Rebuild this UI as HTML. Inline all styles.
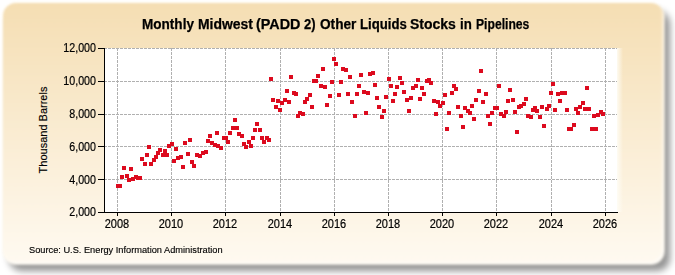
<!DOCTYPE html>
<html><head><meta charset="utf-8"><style>
html,body{margin:0;padding:0;width:675px;height:275px;overflow:hidden;background:#fff;}
body{position:relative;font-family:"Liberation Sans",sans-serif;}
#shadow{position:absolute;left:9px;top:11px;width:661px;height:260px;border-radius:13px;background:rgba(0,0,0,0.42);filter:blur(3.5px);}
#panel{position:absolute;left:3px;top:3px;width:661px;height:261px;border-radius:13px;
background:linear-gradient(to bottom,#f5deb3 0%,#fffaf1 100%);
box-shadow:0 0 1.5px 1px rgba(255,251,242,0.75),inset -2px -2px 2px rgba(255,255,255,0.5);filter:blur(0.9px);}
.tw{position:absolute;top:16px;font-weight:bold;font-size:14px;color:#000;-webkit-text-stroke:0.25px #000;white-space:nowrap;line-height:16px;transform-origin:0 50%;}
svg{position:absolute;left:0;top:0;}
.yl{position:absolute;left:40.5px;width:56px;text-align:right;font-size:12px;color:#000;-webkit-text-stroke:0.2px #000;line-height:14px;transform:scaleX(0.89);transform-origin:100% 50%;}
.xl{position:absolute;top:217px;width:40px;text-align:center;font-size:12px;color:#000;-webkit-text-stroke:0.2px #000;line-height:14px;transform:scaleX(0.917);transform-origin:50% 50%;}
#ylab{position:absolute;left:42.8px;top:130px;transform:translate(-50%,-50%) rotate(-90deg);font-size:11px;color:#000;-webkit-text-stroke:0.15px #000;white-space:nowrap;line-height:12px;}
#src{position:absolute;left:29px;top:244.4px;font-size:9.6px;transform:scaleX(0.963);transform-origin:0 50%;color:#000;-webkit-text-stroke:0.15px #000;white-space:nowrap;line-height:11px;}
</style></head><body>
<div id="shadow"></div><div id="panel"></div>
<span class="tw" style="left:141.53px;transform:scaleX(0.968)">Monthly</span><span class="tw" style="left:197.70px;transform:scaleX(0.996)">Midwest</span><span class="tw" style="left:255.87px;transform:scaleX(1.027)">(PADD</span><span class="tw" style="left:303.80px;transform:scaleX(0.93)">2)</span><span class="tw" style="left:320.00px;transform:scaleX(0.975)">Other</span><span class="tw" style="left:359.66px;transform:scaleX(0.94)">Liquids</span><span class="tw" style="left:410.00px;transform:scaleX(0.999)">Stocks</span><span class="tw" style="left:460.25px;transform:scaleX(0.946)">in</span><span class="tw" style="left:476.33px;transform:scaleX(0.868)">Pipelines</span>
<svg width="675" height="275" viewBox="0 0 675 275" shape-rendering="crispEdges">
<defs><linearGradient id="edge" x1="0" x2="1" y1="0" y2="0"><stop offset="0" stop-color="#fffef8" stop-opacity="0.85"/><stop offset="1" stop-color="#fffef8" stop-opacity="0"/></linearGradient></defs><rect x="617" y="48" width="6" height="164" fill="url(#edge)"/><rect x="104" y="48" width="513" height="164" fill="#fff"/><line x1="104" y1="48.5" x2="617" y2="48.5" stroke="#b0b0b0" stroke-dasharray="3,1"/><line x1="104" y1="81.5" x2="617" y2="81.5" stroke="#b0b0b0" stroke-dasharray="3,1"/><line x1="104" y1="114.5" x2="617" y2="114.5" stroke="#b0b0b0" stroke-dasharray="3,1"/><line x1="104" y1="146.5" x2="617" y2="146.5" stroke="#b0b0b0" stroke-dasharray="3,1"/><line x1="104" y1="179.5" x2="617" y2="179.5" stroke="#b0b0b0" stroke-dasharray="3,1"/><line x1="117.5" y1="48" x2="117.5" y2="212" stroke="#b0b0b0" stroke-dasharray="3,1"/><line x1="171.5" y1="48" x2="171.5" y2="212" stroke="#b0b0b0" stroke-dasharray="3,1"/><line x1="225.5" y1="48" x2="225.5" y2="212" stroke="#b0b0b0" stroke-dasharray="3,1"/><line x1="280.5" y1="48" x2="280.5" y2="212" stroke="#b0b0b0" stroke-dasharray="3,1"/><line x1="334.5" y1="48" x2="334.5" y2="212" stroke="#b0b0b0" stroke-dasharray="3,1"/><line x1="388.5" y1="48" x2="388.5" y2="212" stroke="#b0b0b0" stroke-dasharray="3,1"/><line x1="442.5" y1="48" x2="442.5" y2="212" stroke="#b0b0b0" stroke-dasharray="3,1"/><line x1="496.5" y1="48" x2="496.5" y2="212" stroke="#b0b0b0" stroke-dasharray="3,1"/><line x1="551.5" y1="48" x2="551.5" y2="212" stroke="#b0b0b0" stroke-dasharray="3,1"/><line x1="605.5" y1="48" x2="605.5" y2="212" stroke="#b0b0b0" stroke-dasharray="3,1"/><rect x="116" y="184" width="4" height="4" fill="#dc0a1e"/><rect x="118" y="184" width="4" height="4" fill="#dc0a1e"/><rect x="120" y="175" width="4" height="4" fill="#dc0a1e"/><rect x="122" y="166" width="4" height="4" fill="#dc0a1e"/><rect x="125" y="174" width="4" height="4" fill="#dc0a1e"/><rect x="127" y="178" width="4" height="4" fill="#dc0a1e"/><rect x="129" y="167" width="4" height="4" fill="#dc0a1e"/><rect x="131" y="177" width="4" height="4" fill="#dc0a1e"/><rect x="134" y="175" width="4" height="4" fill="#dc0a1e"/><rect x="136" y="176" width="4" height="4" fill="#dc0a1e"/><rect x="138" y="176" width="4" height="4" fill="#dc0a1e"/><rect x="140" y="157" width="4" height="4" fill="#dc0a1e"/><rect x="143" y="162" width="4" height="4" fill="#dc0a1e"/><rect x="145" y="153" width="4" height="4" fill="#dc0a1e"/><rect x="147" y="145" width="4" height="4" fill="#dc0a1e"/><rect x="149" y="162" width="4" height="4" fill="#dc0a1e"/><rect x="152" y="158" width="4" height="4" fill="#dc0a1e"/><rect x="154" y="155" width="4" height="4" fill="#dc0a1e"/><rect x="156" y="151" width="4" height="4" fill="#dc0a1e"/><rect x="158" y="148" width="4" height="4" fill="#dc0a1e"/><rect x="161" y="153" width="4" height="4" fill="#dc0a1e"/><rect x="163" y="149" width="4" height="4" fill="#dc0a1e"/><rect x="165" y="153" width="4" height="4" fill="#dc0a1e"/><rect x="167" y="144" width="4" height="4" fill="#dc0a1e"/><rect x="170" y="142" width="4" height="4" fill="#dc0a1e"/><rect x="172" y="159" width="4" height="4" fill="#dc0a1e"/><rect x="174" y="147" width="4" height="4" fill="#dc0a1e"/><rect x="176" y="156" width="4" height="4" fill="#dc0a1e"/><rect x="179" y="155" width="4" height="4" fill="#dc0a1e"/><rect x="181" y="165" width="4" height="4" fill="#dc0a1e"/><rect x="183" y="141" width="4" height="4" fill="#dc0a1e"/><rect x="186" y="152" width="4" height="4" fill="#dc0a1e"/><rect x="188" y="138" width="4" height="4" fill="#dc0a1e"/><rect x="190" y="160" width="4" height="4" fill="#dc0a1e"/><rect x="192" y="164" width="4" height="4" fill="#dc0a1e"/><rect x="195" y="153" width="4" height="4" fill="#dc0a1e"/><rect x="198" y="154" width="4" height="4" fill="#dc0a1e"/><rect x="201" y="151" width="4" height="4" fill="#dc0a1e"/><rect x="204" y="150" width="4" height="4" fill="#dc0a1e"/><rect x="206" y="139" width="4" height="4" fill="#dc0a1e"/><rect x="208" y="134" width="4" height="4" fill="#dc0a1e"/><rect x="210" y="141" width="4" height="4" fill="#dc0a1e"/><rect x="213" y="143" width="4" height="4" fill="#dc0a1e"/><rect x="215" y="131" width="4" height="4" fill="#dc0a1e"/><rect x="216" y="144" width="4" height="4" fill="#dc0a1e"/><rect x="219" y="146" width="4" height="4" fill="#dc0a1e"/><rect x="222" y="136" width="4" height="4" fill="#dc0a1e"/><rect x="224" y="136" width="4" height="4" fill="#dc0a1e"/><rect x="226" y="140" width="4" height="4" fill="#dc0a1e"/><rect x="228" y="131" width="4" height="4" fill="#dc0a1e"/><rect x="231" y="126" width="4" height="4" fill="#dc0a1e"/><rect x="233" y="118" width="4" height="4" fill="#dc0a1e"/><rect x="235" y="126" width="4" height="4" fill="#dc0a1e"/><rect x="237" y="132" width="4" height="4" fill="#dc0a1e"/><rect x="240" y="134" width="4" height="4" fill="#dc0a1e"/><rect x="242" y="142" width="4" height="4" fill="#dc0a1e"/><rect x="244" y="145" width="4" height="4" fill="#dc0a1e"/><rect x="247" y="140" width="4" height="4" fill="#dc0a1e"/><rect x="249" y="144" width="4" height="4" fill="#dc0a1e"/><rect x="251" y="136" width="4" height="4" fill="#dc0a1e"/><rect x="253" y="128" width="4" height="4" fill="#dc0a1e"/><rect x="255" y="122" width="4" height="4" fill="#dc0a1e"/><rect x="258" y="128" width="4" height="4" fill="#dc0a1e"/><rect x="260" y="136" width="4" height="4" fill="#dc0a1e"/><rect x="262" y="140" width="4" height="4" fill="#dc0a1e"/><rect x="265" y="136" width="4" height="4" fill="#dc0a1e"/><rect x="267" y="138" width="4" height="4" fill="#dc0a1e"/><rect x="269" y="77" width="4" height="4" fill="#dc0a1e"/><rect x="271" y="98" width="4" height="4" fill="#dc0a1e"/><rect x="274" y="105" width="4" height="4" fill="#dc0a1e"/><rect x="276" y="99" width="4" height="4" fill="#dc0a1e"/><rect x="278" y="108" width="4" height="4" fill="#dc0a1e"/><rect x="280" y="101" width="4" height="4" fill="#dc0a1e"/><rect x="283" y="98" width="4" height="4" fill="#dc0a1e"/><rect x="285" y="89" width="4" height="4" fill="#dc0a1e"/><rect x="287" y="100" width="4" height="4" fill="#dc0a1e"/><rect x="289" y="75" width="4" height="4" fill="#dc0a1e"/><rect x="292" y="91" width="4" height="4" fill="#dc0a1e"/><rect x="294" y="92" width="4" height="4" fill="#dc0a1e"/><rect x="296" y="114" width="4" height="4" fill="#dc0a1e"/><rect x="298" y="111" width="4" height="4" fill="#dc0a1e"/><rect x="301" y="112" width="4" height="4" fill="#dc0a1e"/><rect x="303" y="100" width="4" height="4" fill="#dc0a1e"/><rect x="305" y="97" width="4" height="4" fill="#dc0a1e"/><rect x="308" y="93" width="4" height="4" fill="#dc0a1e"/><rect x="310" y="105" width="4" height="4" fill="#dc0a1e"/><rect x="312" y="79" width="4" height="4" fill="#dc0a1e"/><rect x="314" y="79" width="4" height="4" fill="#dc0a1e"/><rect x="316" y="74" width="4" height="4" fill="#dc0a1e"/><rect x="319" y="84" width="4" height="4" fill="#dc0a1e"/><rect x="321" y="67" width="4" height="4" fill="#dc0a1e"/><rect x="323" y="85" width="4" height="4" fill="#dc0a1e"/><rect x="325" y="103" width="4" height="4" fill="#dc0a1e"/><rect x="328" y="94" width="4" height="4" fill="#dc0a1e"/><rect x="330" y="80" width="4" height="4" fill="#dc0a1e"/><rect x="332" y="57" width="4" height="4" fill="#dc0a1e"/><rect x="334" y="62" width="4" height="4" fill="#dc0a1e"/><rect x="337" y="93" width="4" height="4" fill="#dc0a1e"/><rect x="339" y="80" width="4" height="4" fill="#dc0a1e"/><rect x="341" y="67" width="4" height="4" fill="#dc0a1e"/><rect x="344" y="68" width="4" height="4" fill="#dc0a1e"/><rect x="346" y="92" width="4" height="4" fill="#dc0a1e"/><rect x="348" y="75" width="4" height="4" fill="#dc0a1e"/><rect x="350" y="100" width="4" height="4" fill="#dc0a1e"/><rect x="353" y="114" width="4" height="4" fill="#dc0a1e"/><rect x="355" y="92" width="4" height="4" fill="#dc0a1e"/><rect x="357" y="84" width="4" height="4" fill="#dc0a1e"/><rect x="359" y="73" width="4" height="4" fill="#dc0a1e"/><rect x="362" y="90" width="4" height="4" fill="#dc0a1e"/><rect x="364" y="111" width="4" height="4" fill="#dc0a1e"/><rect x="366" y="91" width="4" height="4" fill="#dc0a1e"/><rect x="368" y="72" width="4" height="4" fill="#dc0a1e"/><rect x="371" y="71" width="4" height="4" fill="#dc0a1e"/><rect x="373" y="83" width="4" height="4" fill="#dc0a1e"/><rect x="375" y="96" width="4" height="4" fill="#dc0a1e"/><rect x="377" y="105" width="4" height="4" fill="#dc0a1e"/><rect x="380" y="115" width="4" height="4" fill="#dc0a1e"/><rect x="382" y="109" width="4" height="4" fill="#dc0a1e"/><rect x="384" y="95" width="4" height="4" fill="#dc0a1e"/><rect x="387" y="77" width="4" height="4" fill="#dc0a1e"/><rect x="389" y="84" width="4" height="4" fill="#dc0a1e"/><rect x="391" y="99" width="4" height="4" fill="#dc0a1e"/><rect x="393" y="92" width="4" height="4" fill="#dc0a1e"/><rect x="395" y="85" width="4" height="4" fill="#dc0a1e"/><rect x="398" y="76" width="4" height="4" fill="#dc0a1e"/><rect x="400" y="81" width="4" height="4" fill="#dc0a1e"/><rect x="402" y="90" width="4" height="4" fill="#dc0a1e"/><rect x="405" y="98" width="4" height="4" fill="#dc0a1e"/><rect x="407" y="109" width="4" height="4" fill="#dc0a1e"/><rect x="409" y="96" width="4" height="4" fill="#dc0a1e"/><rect x="411" y="86" width="4" height="4" fill="#dc0a1e"/><rect x="414" y="84" width="4" height="4" fill="#dc0a1e"/><rect x="416" y="78" width="4" height="4" fill="#dc0a1e"/><rect x="418" y="97" width="4" height="4" fill="#dc0a1e"/><rect x="420" y="86" width="4" height="4" fill="#dc0a1e"/><rect x="422" y="92" width="4" height="4" fill="#dc0a1e"/><rect x="425" y="79" width="4" height="4" fill="#dc0a1e"/><rect x="427" y="78" width="4" height="4" fill="#dc0a1e"/><rect x="429" y="81" width="4" height="4" fill="#dc0a1e"/><rect x="432" y="99" width="4" height="4" fill="#dc0a1e"/><rect x="434" y="112" width="4" height="4" fill="#dc0a1e"/><rect x="436" y="100" width="4" height="4" fill="#dc0a1e"/><rect x="438" y="104" width="4" height="4" fill="#dc0a1e"/><rect x="441" y="101" width="4" height="4" fill="#dc0a1e"/><rect x="443" y="93" width="4" height="4" fill="#dc0a1e"/><rect x="445" y="127" width="4" height="4" fill="#dc0a1e"/><rect x="447" y="111" width="4" height="4" fill="#dc0a1e"/><rect x="450" y="91" width="4" height="4" fill="#dc0a1e"/><rect x="452" y="84" width="4" height="4" fill="#dc0a1e"/><rect x="454" y="87" width="4" height="4" fill="#dc0a1e"/><rect x="456" y="105" width="4" height="4" fill="#dc0a1e"/><rect x="459" y="114" width="4" height="4" fill="#dc0a1e"/><rect x="461" y="125" width="4" height="4" fill="#dc0a1e"/><rect x="463" y="106" width="4" height="4" fill="#dc0a1e"/><rect x="466" y="109" width="4" height="4" fill="#dc0a1e"/><rect x="468" y="111" width="4" height="4" fill="#dc0a1e"/><rect x="470" y="104" width="4" height="4" fill="#dc0a1e"/><rect x="472" y="117" width="4" height="4" fill="#dc0a1e"/><rect x="474" y="98" width="4" height="4" fill="#dc0a1e"/><rect x="477" y="89" width="4" height="4" fill="#dc0a1e"/><rect x="479" y="69" width="4" height="4" fill="#dc0a1e"/><rect x="481" y="100" width="4" height="4" fill="#dc0a1e"/><rect x="484" y="92" width="4" height="4" fill="#dc0a1e"/><rect x="486" y="114" width="4" height="4" fill="#dc0a1e"/><rect x="488" y="122" width="4" height="4" fill="#dc0a1e"/><rect x="490" y="111" width="4" height="4" fill="#dc0a1e"/><rect x="493" y="106" width="4" height="4" fill="#dc0a1e"/><rect x="495" y="106" width="4" height="4" fill="#dc0a1e"/><rect x="497" y="84" width="4" height="4" fill="#dc0a1e"/><rect x="499" y="112" width="4" height="4" fill="#dc0a1e"/><rect x="502" y="114" width="4" height="4" fill="#dc0a1e"/><rect x="504" y="110" width="4" height="4" fill="#dc0a1e"/><rect x="506" y="99" width="4" height="4" fill="#dc0a1e"/><rect x="508" y="88" width="4" height="4" fill="#dc0a1e"/><rect x="511" y="98" width="4" height="4" fill="#dc0a1e"/><rect x="513" y="110" width="4" height="4" fill="#dc0a1e"/><rect x="515" y="130" width="4" height="4" fill="#dc0a1e"/><rect x="517" y="105" width="4" height="4" fill="#dc0a1e"/><rect x="519" y="104" width="4" height="4" fill="#dc0a1e"/><rect x="522" y="102" width="4" height="4" fill="#dc0a1e"/><rect x="524" y="97" width="4" height="4" fill="#dc0a1e"/><rect x="526" y="114" width="4" height="4" fill="#dc0a1e"/><rect x="529" y="115" width="4" height="4" fill="#dc0a1e"/><rect x="531" y="108" width="4" height="4" fill="#dc0a1e"/><rect x="533" y="106" width="4" height="4" fill="#dc0a1e"/><rect x="535" y="109" width="4" height="4" fill="#dc0a1e"/><rect x="538" y="115" width="4" height="4" fill="#dc0a1e"/><rect x="540" y="105" width="4" height="4" fill="#dc0a1e"/><rect x="542" y="124" width="4" height="4" fill="#dc0a1e"/><rect x="545" y="107" width="4" height="4" fill="#dc0a1e"/><rect x="547" y="104" width="4" height="4" fill="#dc0a1e"/><rect x="549" y="91" width="4" height="4" fill="#dc0a1e"/><rect x="551" y="82" width="4" height="4" fill="#dc0a1e"/><rect x="553" y="108" width="4" height="4" fill="#dc0a1e"/><rect x="556" y="92" width="4" height="4" fill="#dc0a1e"/><rect x="558" y="99" width="4" height="4" fill="#dc0a1e"/><rect x="560" y="91" width="4" height="4" fill="#dc0a1e"/><rect x="563" y="91" width="4" height="4" fill="#dc0a1e"/><rect x="565" y="108" width="4" height="4" fill="#dc0a1e"/><rect x="567" y="127" width="4" height="4" fill="#dc0a1e"/><rect x="569" y="127" width="4" height="4" fill="#dc0a1e"/><rect x="572" y="123" width="4" height="4" fill="#dc0a1e"/><rect x="574" y="107" width="4" height="4" fill="#dc0a1e"/><rect x="576" y="111" width="4" height="4" fill="#dc0a1e"/><rect x="578" y="105" width="4" height="4" fill="#dc0a1e"/><rect x="581" y="101" width="4" height="4" fill="#dc0a1e"/><rect x="583" y="107" width="4" height="4" fill="#dc0a1e"/><rect x="585" y="86" width="4" height="4" fill="#dc0a1e"/><rect x="587" y="107" width="4" height="4" fill="#dc0a1e"/><rect x="590" y="127" width="4" height="4" fill="#dc0a1e"/><rect x="592" y="114" width="4" height="4" fill="#dc0a1e"/><rect x="594" y="127" width="4" height="4" fill="#dc0a1e"/><rect x="596" y="113" width="4" height="4" fill="#dc0a1e"/><rect x="599" y="110" width="4" height="4" fill="#dc0a1e"/><rect x="601" y="112" width="4" height="4" fill="#dc0a1e"/><line x1="104.5" y1="48" x2="104.5" y2="213" stroke="#000"/><line x1="98" y1="212.5" x2="618" y2="212.5" stroke="#000"/><line x1="98" y1="48.5" x2="104" y2="48.5" stroke="#000"/><line x1="98" y1="81.5" x2="104" y2="81.5" stroke="#000"/><line x1="98" y1="114.5" x2="104" y2="114.5" stroke="#000"/><line x1="98" y1="146.5" x2="104" y2="146.5" stroke="#000"/><line x1="98" y1="179.5" x2="104" y2="179.5" stroke="#000"/><line x1="98" y1="212.5" x2="104" y2="212.5" stroke="#000"/><line x1="117.5" y1="212" x2="117.5" y2="216" stroke="#000"/><line x1="171.5" y1="212" x2="171.5" y2="216" stroke="#000"/><line x1="225.5" y1="212" x2="225.5" y2="216" stroke="#000"/><line x1="280.5" y1="212" x2="280.5" y2="216" stroke="#000"/><line x1="334.5" y1="212" x2="334.5" y2="216" stroke="#000"/><line x1="388.5" y1="212" x2="388.5" y2="216" stroke="#000"/><line x1="442.5" y1="212" x2="442.5" y2="216" stroke="#000"/><line x1="496.5" y1="212" x2="496.5" y2="216" stroke="#000"/><line x1="551.5" y1="212" x2="551.5" y2="216" stroke="#000"/><line x1="605.5" y1="212" x2="605.5" y2="216" stroke="#000"/>
</svg>
<div class="yl" style="top:40.70px;left:39.9px">12,000</div><div class="yl" style="top:74.44px;left:39.9px">10,000</div><div class="yl" style="top:107.18px;left:39.9px">8,000</div><div class="yl" style="top:139.92px;left:39.9px">6,000</div><div class="yl" style="top:172.66px;left:39.9px">4,000</div><div class="yl" style="top:205.40px;left:39.9px">2,000</div><div class="xl" style="left:97px">2008</div><div class="xl" style="left:151px">2010</div><div class="xl" style="left:205px">2012</div><div class="xl" style="left:260px">2014</div><div class="xl" style="left:314px">2016</div><div class="xl" style="left:368px">2018</div><div class="xl" style="left:422px">2020</div><div class="xl" style="left:476px">2022</div><div class="xl" style="left:531px">2024</div><div class="xl" style="left:585px">2026</div>
<div id="ylab">Thousand Barrels</div>
<div id="src">Source: U.S. Energy Information Administration</div>
</body></html>
